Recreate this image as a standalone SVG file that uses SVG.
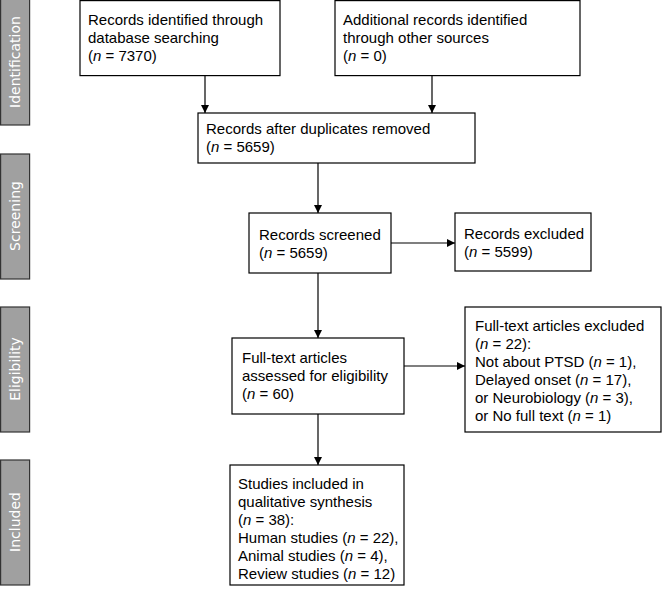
<svg xmlns="http://www.w3.org/2000/svg" width="662" height="594" viewBox="0 0 662 594">
<defs>
<style>
.b{fill:#fff;stroke:#000;stroke-width:1.2}
.s{fill:#a0a0a0;stroke:#333;stroke-width:1.2}
.t{font-family:"Liberation Sans",Arial,sans-serif;font-size:15px;fill:#000}
.st{font-family:"DejaVu Sans",sans-serif;font-size:14px;fill:#fff}
.c{stroke:#000;stroke-width:1.2;fill:none;marker-end:url(#a)}
</style>
<marker id="a" viewBox="0 0 10 10" refX="10" refY="5" markerWidth="8" markerHeight="8" markerUnits="userSpaceOnUse" orient="auto"><path d="M0,0L10,5L0,10z" fill="#000"/></marker>
</defs>
<rect width="662" height="594" fill="#fff"/>
<g id="stage-identification"><rect class="s" x="0.6" y="-2" width="29" height="127"/><text class="st" transform="translate(20,62) rotate(-90)" text-anchor="middle">Identification</text></g>
<g id="stage-screening"><rect class="s" x="0.6" y="154" width="29" height="125"/><text class="st" transform="translate(20,216) rotate(-90)" text-anchor="middle">Screening</text></g>
<g id="stage-eligibility"><rect class="s" x="0.6" y="307" width="29" height="125"/><text class="st" transform="translate(20,369) rotate(-90)" text-anchor="middle">Eligibility</text></g>
<g id="stage-included"><rect class="s" x="0.6" y="460" width="29" height="125"/><text class="st" transform="translate(20,522) rotate(-90)" text-anchor="middle">Included</text></g>
<g id="n1"><rect class="b" x="80" y="0.6" width="200" height="75"/><text class="t" x="88" y="25">Records identified through<tspan x="88" dy="18">database searching</tspan><tspan x="88" dy="18">(<tspan font-style="italic">n</tspan> = 7370)</tspan></text></g>
<g id="n2"><rect class="b" x="335" y="0.6" width="245" height="75"/><text class="t" x="343" y="25">Additional records identified<tspan x="343" dy="18">through other sources</tspan><tspan x="343" dy="18">(<tspan font-style="italic">n</tspan> = 0)</tspan></text></g>
<g id="n3"><rect class="b" x="198" y="113" width="277" height="50"/><text class="t" x="206" y="134">Records after duplicates removed<tspan x="206" dy="18">(<tspan font-style="italic">n</tspan> = 5659)</tspan></text></g>
<g id="n4"><rect class="b" x="249" y="213" width="142" height="60"/><text class="t" x="259" y="240">Records screened<tspan x="259" dy="18">(<tspan font-style="italic">n</tspan> = 5659)</tspan></text></g>
<g id="n5"><rect class="b" x="455" y="213" width="136" height="58"/><text class="t" x="464" y="239">Records excluded<tspan x="464" dy="18">(<tspan font-style="italic">n</tspan> = 5599)</tspan></text></g>
<g id="n6"><rect class="b" x="232" y="338" width="172" height="76"/><text class="t" x="242" y="363">Full-text articles<tspan x="242" dy="18">assessed for eligibility</tspan><tspan x="242" dy="18">(<tspan font-style="italic">n</tspan> = 60)</tspan></text></g>
<g id="n7"><rect class="b" x="465" y="307" width="196" height="125"/><text class="t" x="475" y="331">Full-text articles excluded<tspan x="475" dy="18">(<tspan font-style="italic">n</tspan> = 22):</tspan><tspan x="475" dy="18">Not about PTSD (<tspan font-style="italic">n</tspan> = 1),</tspan><tspan x="475" dy="18">Delayed onset (<tspan font-style="italic">n</tspan> = 17),</tspan><tspan x="475" dy="18">or Neurobiology (<tspan font-style="italic">n</tspan> = 3),</tspan><tspan x="475" dy="18">or No full text (<tspan font-style="italic">n</tspan> = 1)</tspan></text></g>
<g id="n8"><rect class="b" x="230" y="465" width="174" height="120"/><text class="t" x="238" y="489">Studies included in<tspan x="238" dy="18">qualitative synthesis</tspan><tspan x="238" dy="18">(<tspan font-style="italic">n</tspan> = 38):</tspan><tspan x="238" dy="18">Human studies (<tspan font-style="italic">n</tspan> = 22),</tspan><tspan x="238" dy="18">Animal studies (<tspan font-style="italic">n</tspan> = 4),</tspan><tspan x="238" dy="18">Review studies (<tspan font-style="italic">n</tspan> = 12)</tspan></text></g>
<g id="connectors">
<path class="c" d="M205,76V113"/>
<path class="c" d="M432,76V113"/>
<path class="c" d="M318,163V213"/>
<path class="c" d="M391,243H455"/>
<path class="c" d="M318,273V338"/>
<path class="c" d="M404,366H465"/>
<path class="c" d="M318,414V465"/>
</g>
</svg>
